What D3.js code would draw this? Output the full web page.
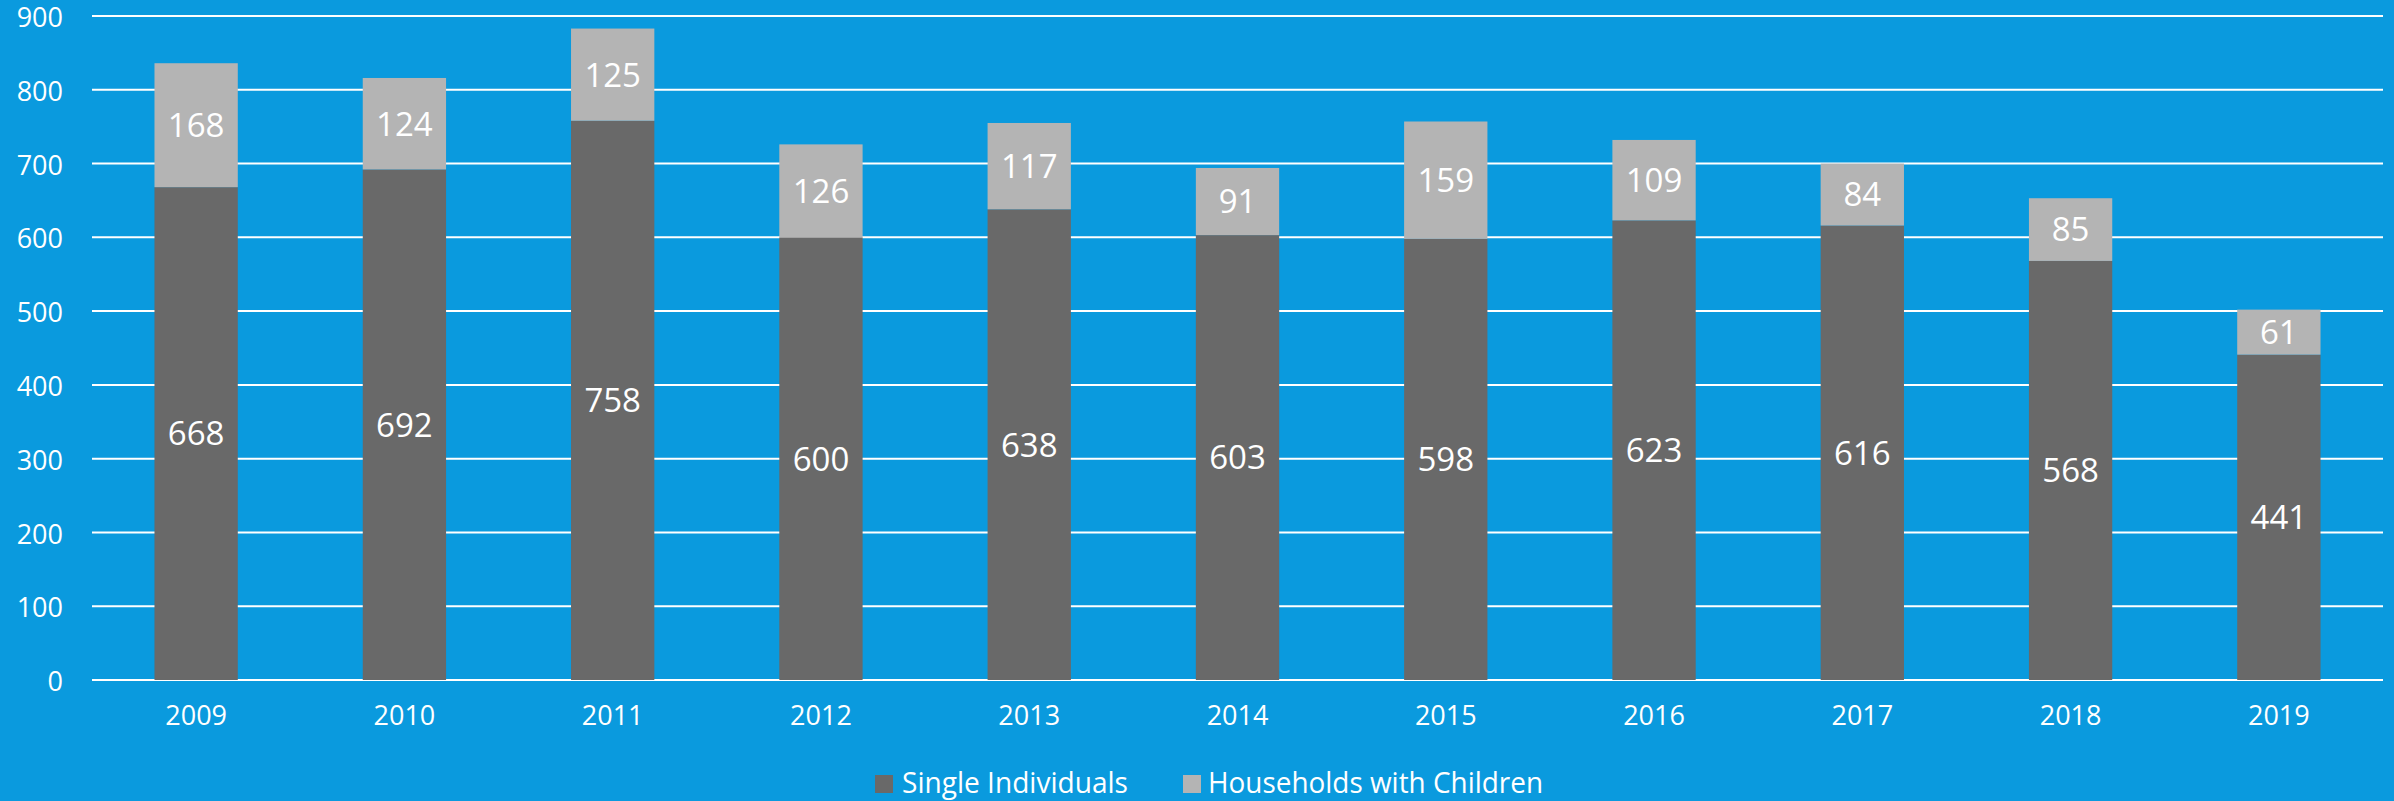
<!DOCTYPE html>
<html>
<head>
<meta charset="utf-8">
<script src="https://cdn.jsdelivr.net/npm/d3@7"></script>
<style>
  html, body { margin: 0; padding: 0; background: #0a9ade; }
  svg { display: block; font-family: "Open Sans", "Noto Sans", sans-serif; }
</style>
</head>
<body>
<svg id="chart" width="2394" height="801"></svg>
<script>
// data
var years = ["2009","2010","2011","2012","2013","2014","2015","2016","2017","2018","2019"];
var singles = [668, 692, 758, 600, 638, 603, 598, 623, 616, 568, 441];
var households = [168, 124, 125, 126, 117, 91, 159, 109, 84, 85, 61];
var yTicks = [0, 100, 200, 300, 400, 500, 600, 700, 800, 900];
var seriesNames = ["Single Individuals", "Households with Children"];

var colors = {bg: "#0a9ade", single: "#696969", house: "#b4b4b4"};

var svg = d3.select("#chart");

svg.append("rect")
    .attr("width", 2394).attr("height", 801)
    .attr("fill", colors.bg);

var x = d3.scaleBand()
    .domain(years)
    .range([92, 2383])
    .paddingInner(0.6)
    .paddingOuter(0.3);

var y = d3.scaleLinear()
    .domain([0, 900])
    .range([680, 16]);

// gridlines
svg.append("g")
    .selectAll("line")
    .data(yTicks)
    .enter().append("line")
    .attr("x1", 92).attr("x2", 2383)
    .attr("y1", function(d){ return y(d); })
    .attr("y2", function(d){ return y(d); })
    .attr("stroke", "#ffffff")
    .attr("stroke-width", 2);

// y labels
var yAxis = d3.axisLeft(y).tickValues(yTicks).tickSize(0).tickPadding(0);
var yg = svg.append("g")
    .attr("transform", "translate(63,2)")
    .call(yAxis);
yg.select(".domain").remove();
yg.selectAll("text")
    .attr("fill", "#ffffff")
    .style("font-size", "27px")
    .style("font-family", "'Open Sans', sans-serif");

// x labels
var xAxis = d3.axisBottom(x).tickSize(0).tickPadding(0);
var xg = svg.append("g")
    .attr("transform", "translate(0,706)")
    .call(xAxis);
xg.select(".domain").remove();
xg.selectAll("text")
    .attr("fill", "#ffffff")
    .style("font-size", "27px")
    .style("font-family", "'Open Sans', sans-serif");

// stacked bars
var rows = years.map(function(yr, i){
    return {year: yr, single: singles[i], house: households[i]};
});
var stack = d3.stack().keys(["single", "house"]);
var layers = stack(rows);
var fills = [colors.single, colors.house];

var layerG = svg.selectAll("g.layer")
    .data(layers)
    .enter().append("g")
    .attr("class", "layer")
    .attr("fill", function(d, i){ return fills[i]; });

layerG.selectAll("rect")
    .data(function(d){ return d; })
    .enter().append("rect")
    .attr("x", function(d){ return x(d.data.year); })
    .attr("width", x.bandwidth())
    .attr("y", function(d){ return y(d[1]); })
    .attr("height", function(d){ return y(d[0]) - y(d[1]); });

// value labels, centred in each segment
layerG.selectAll("text")
    .data(function(d){ return d; })
    .enter().append("text")
    .attr("x", function(d){ return x(d.data.year) + x.bandwidth() / 2; })
    .attr("y", function(d){ return y((d[0] + d[1]) / 2); })
    .attr("text-anchor", "middle")
    .attr("dy", "0.36em")
    .attr("fill", "#ffffff")
    .style("font-size", "33px")
    .text(function(d){ return d[1] - d[0]; });

// legend
var legend = svg.append("g").attr("class", "legend");
var legendItems = [
    {name: seriesNames[0], color: colors.single, sq: 875, tx: 902, w: 226},
    {name: seriesNames[1], color: colors.house, sq: 1183, tx: 1208, w: 335}
];
legendItems.forEach(function(item){
    legend.append("rect")
        .attr("x", item.sq).attr("y", 775)
        .attr("width", 18).attr("height", 18)
        .attr("fill", item.color);
    legend.append("text")
        .attr("x", item.tx).attr("y", 793)
        .attr("fill", "#ffffff")
        .style("font-size", "30px")
        .attr("textLength", item.w)
        .attr("lengthAdjust", "spacingAndGlyphs")
        .text(item.name);
});
</script>
</body>
</html>
